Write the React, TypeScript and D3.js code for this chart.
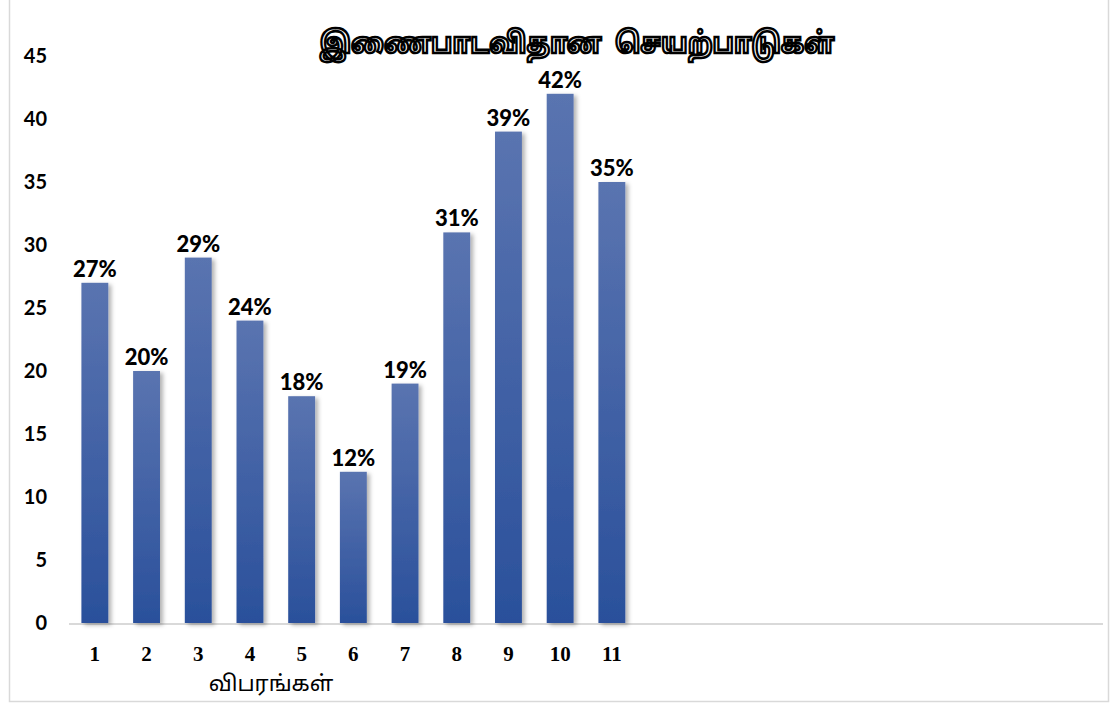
import React from "react";
import * as d3 from "d3";

const categories: string[] = Array.from({ length: 20 }, (_, i) => String(i + 1));
const values: number[] = [27, 20, 29, 24, 18, 12, 19, 31, 39, 42, 35];
const labels: string[] = ["27%", "20%", "29%", "24%", "18%", "12%", "19%", "31%", "39%", "42%", "35%"];
const yTicks: number[] = [0, 5, 10, 15, 20, 25, 30, 35, 40, 45];
const title = "இணைபாடவிதான  செயற்பாடுகள்";
const xTitle = "விபரங்கள்";

export default function App() {
  const W = 1113, H = 703;
  const x = d3.scaleBand<string>().domain(categories).range([69, 1103]).paddingInner(0.48).paddingOuter(0.24);
  const y = d3.scaleLinear().domain([0, 45]).range([623, 56]);
  const labelFont = "'Lato', 'Open Sans', sans-serif";
  return (
    <svg width={W} height={H} style={{ position: "absolute", left: 0, top: 0, background: "#fff" }}>
      <defs>
        <linearGradient id="barGrad" x1="0" y1="0" x2="0" y2="1">
          <stop offset="0%" stopColor="#5a74b0" />
          <stop offset="100%" stopColor="#2a509b" />
        </linearGradient>
        <filter id="shadow" x="-30%" y="-10%" width="170%" height="130%">
          <feDropShadow dx="3" dy="2" stdDeviation="2" floodColor="#000" floodOpacity="0.3" />
        </filter>
      </defs>
      <rect x={9.5} y={-5} width={1099} height={706.5} fill="#fff" stroke="#d9d9d9" strokeWidth={1.5} />
      <text x={577} y={53} textAnchor="middle" fontFamily="'Noto Sans Tamil', 'Lohit Tamil', sans-serif" fontWeight="bold" fontSize={29} fill="#fff" stroke="#000" strokeWidth={2.6} textLength={515} lengthAdjust="spacingAndGlyphs" style={{ whiteSpace: "pre" }}>
        {title}
      </text>
      {yTicks.map((t) => (
        <text key={t} x={47} y={y(t)} dy="0.35em" textAnchor="end" fontFamily={labelFont} fontWeight="bold" fontSize={20} fill="#000">
          {t}
        </text>
      ))}
      <line x1={69} x2={1103} y1={624} y2={624} stroke="#d9d9d9" strokeWidth={2} />
      {values.map((v, i) => {
        const c = categories[i];
        const bx = x(c)!;
        return (
          <g key={c}>
            <rect x={bx} y={y(v)} width={x.bandwidth()} height={y(0) - y(v)} fill="url(#barGrad)" filter="url(#shadow)" />
            <text x={bx + x.bandwidth() / 2} y={y(v) - 6} textAnchor="middle" fontFamily={labelFont} fontWeight="900" fontSize={22} fill="#000">
              {labels[i]}
            </text>
          </g>
        );
      })}
      {values.map((_, i) => {
        const c = categories[i];
        return (
          <text key={c} x={x(c)! + x.bandwidth() / 2} y={661} textAnchor="middle" fontFamily="'Liberation Serif', 'Times New Roman', serif" fontWeight="bold" fontSize={21} fill="#000">
            {c}
          </text>
        );
      })}
      <text x={271} y={691} textAnchor="middle" fontFamily="'Noto Sans Tamil', 'Lohit Tamil', sans-serif" fontSize={22} fill="#000">
        {xTitle}
      </text>
    </svg>
  );
}
